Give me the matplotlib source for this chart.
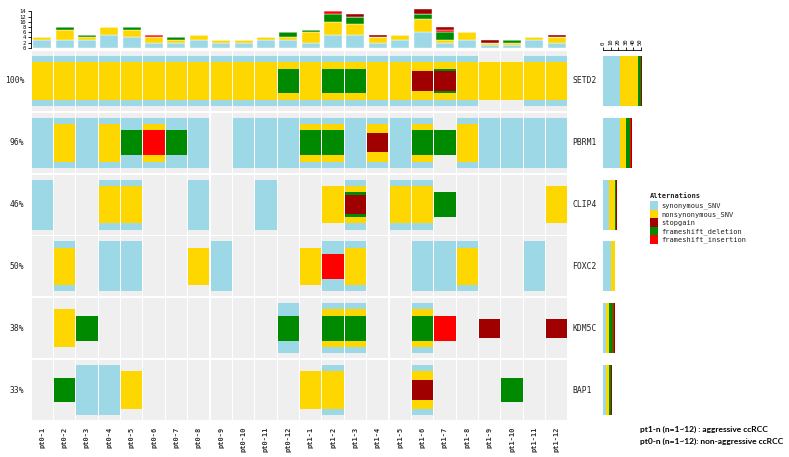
import numpy as np
import matplotlib.pyplot as plt
from matplotlib.patches import Rectangle

# samples (columns) and genes (rows)
samples = ["pt0-%d" % i for i in range(1, 13)] + ["pt1-%d" % i for i in range(1, 13)]
genes = ["SETD2", "PBRM1", "CLIP4", "FOXC2", "KDM5C", "BAP1"]

# alteration codes per cell: S=synonymous_SNV, N=nonsynonymous_SNV,
# D=frameshift_deletion, I=frameshift_insertion, G=stopgain
SETD2 = ["SN", "SN", "SN", "SN", "SN", "SN", "SN", "SN", "SN", "SN", "SN", "SND",
         "SN", "SND", "SND", "SN", "SN", "SNG", "SNDG", "SN", "N", "N", "SN", "SN"]
PBRM1 = ["S", "SN", "S", "SN", "SD", "SNI", "SD", "S", "", "S", "S", "S",
         "SND", "SND", "S", "SNG", "S", "SND", "D", "SN", "S", "S", "S", "S"]
CLIP4 = ["S", "", "", "SN", "SN", "", "", "S", "", "", "S", "",
         "", "N", "SNDG", "", "SN", "SN", "D", "", "", "", "", "N"]
FOXC2 = ["", "SN", "", "S", "S", "", "", "N", "S", "", "", "",
         "N", "SI", "SN", "", "", "S", "S", "SN", "", "", "S", ""]
KDM5C = ["", "N", "D", "", "", "", "", "", "", "", "", "SD",
         "", "SND", "SND", "", "", "SND", "I", "", "G", "", "", "G"]
BAP1 = ["", "D", "S", "S", "N", "", "", "", "", "", "", "",
        "N", "SN", "", "", "", "SNG", "", "", "", "D", "", ""]
matrix = [SETD2, PBRM1, CLIP4, FOXC2, KDM5C, BAP1]

# alteration types in drawing / stacking order
alt_codes = ["S", "N", "D", "I", "G"]
alt_names = {"S": "synonymous_SNV", "N": "nonsynonymous_SNV", "G": "stopgain",
             "D": "frameshift_deletion", "I": "frameshift_insertion"}
alt_colors = {"S": "#9dd8e6", "N": "#ffd700", "D": "#008a00", "I": "#ff0000", "G": "#a00000"}
alt_height = {"S": 0.81, "N": 0.61, "D": 0.40, "I": 0.40, "G": 0.31}
legend_order = ["S", "N", "G", "D", "I"]

W, H = 789, 457
mono = "DejaVu Sans Mono"


def box(l, t, r, b):
    return [l / W, 1 - b / H, (r - l) / W, (b - t) / H]


fig = plt.figure(figsize=(W / 100, H / 100), dpi=100)

# ---- main oncoprint ----
ax = fig.add_axes(box(31, 50, 568, 421))
ax.set_xlim(0, len(samples))
ax.set_ylim(len(genes), 0)
for s in ax.spines.values():
    s.set_visible(False)
cw = 0.955
for i, row in enumerate(matrix):
    for j, cell in enumerate(row):
        ax.add_patch(Rectangle((j + (1 - cw) / 2, i + 0.015), cw, 0.97,
                               facecolor="#efefef", edgecolor="none"))
        for c in alt_codes:
            if c in cell:
                h = alt_height[c]
                ax.add_patch(Rectangle((j + (1 - cw) / 2, i + 0.5 - h / 2), cw, h,
                                       facecolor=alt_colors[c], edgecolor="none"))
    pct = round(100 * sum(1 for c in row if c) / len(row))
    ax.text(-0.3, i + 0.5, "%d%%" % pct, ha="right", va="center",
            fontsize=5.8, family=mono, color="#222222")
    ax.text(24.2, i + 0.5, genes[i], ha="left", va="center",
            fontsize=5.8, family=mono, color="#222222")
ax.set_yticks([])
ax.set_xticks(np.arange(len(samples)) + 0.5)
ax.set_xticklabels(samples, rotation=90, fontsize=5, family=mono,
                   fontweight="bold", color="#333333")
ax.tick_params(axis="x", length=0, pad=4)

# ---- top barplot: counts per sample ----
axt = fig.add_axes(box(31, 8.2, 568, 47.7))
axt.set_xlim(0, len(samples))
axt.set_ylim(0, 15.2)
bottom = np.zeros(len(samples))
for c in alt_codes:
    cnt = np.array([cell.count(c) for cell in
                    [''.join(m[j] for m in matrix) for j in range(len(samples))]])
    axt.bar(np.arange(len(samples)) + 0.5, cnt, width=0.8, bottom=bottom,
            color=alt_colors[c], edgecolor="white", linewidth=0.3)
    bottom += cnt
for s in ["top", "right", "bottom"]:
    axt.spines[s].set_visible(False)
axt.spines["left"].set_bounds(0, 14)
axt.spines["left"].set_linewidth(0.6)
axt.set_xticks([])
axt.set_yticks(range(0, 15, 2))
axt.tick_params(axis="y", labelsize=4, length=2.5, width=0.6, pad=1)
for t in axt.get_yticklabels():
    t.set_family(mono)

# ---- right barplot: counts per gene ----
axr = fig.add_axes(box(603.3, 50, 650, 421))
axr.set_ylim(len(genes), 0)
axr.set_xlim(0, (650 - 603.3) / 0.747)
left = np.zeros(len(genes))
for c in alt_codes:
    cnt = np.array([sum(cell.count(c) for cell in row) for row in matrix])
    axr.barh(np.arange(len(genes)) + 0.5, cnt, height=0.81, left=left,
             color=alt_colors[c], edgecolor="none")
    left += cnt
for s in ["bottom", "right", "left"]:
    axr.spines[s].set_visible(False)
axr.spines["top"].set_bounds(0, 50)
axr.spines["top"].set_linewidth(0.6)
axr.set_yticks([])
axr.xaxis.tick_top()
axr.set_xticks(range(0, 51, 10))
axr.tick_params(axis="x", labelsize=4, length=2.5, width=0.6, pad=1,
                labelrotation=90)
for t in axr.get_xticklabels():
    t.set_family(mono)

# ---- legend ----
fig.text(650 / W, 1 - 195.7 / H, "Alternations", fontsize=5, family=mono,
         fontweight="bold", ha="left", va="center", color="#222222")
for k, c in enumerate(legend_order):
    yc = 205.7 + 8.5 * k
    fig.patches.append(Rectangle((650 / W, 1 - (yc + 4.2) / H), 8.3 / W, 8.4 / H,
                                 transform=fig.transFigure, facecolor=alt_colors[c],
                                 edgecolor="none"))
    fig.text(661 / W, 1 - yc / H, alt_names[c], fontsize=5, family=mono,
             ha="left", va="center", color="#222222")

# ---- note ----
fig.text(640 / W, 1 - 429.5 / H, "pt1-n (n=1~12) : aggressive ccRCC",
         fontsize=6, family="Lato", fontweight="bold", ha="left", va="center")
fig.text(640 / W, 1 - 441.5 / H, "pt0-n (n=1~12): non-aggressive ccRCC",
         fontsize=6, family="Lato", fontweight="bold", ha="left", va="center")

fig.savefig("out.png", dpi=100)
